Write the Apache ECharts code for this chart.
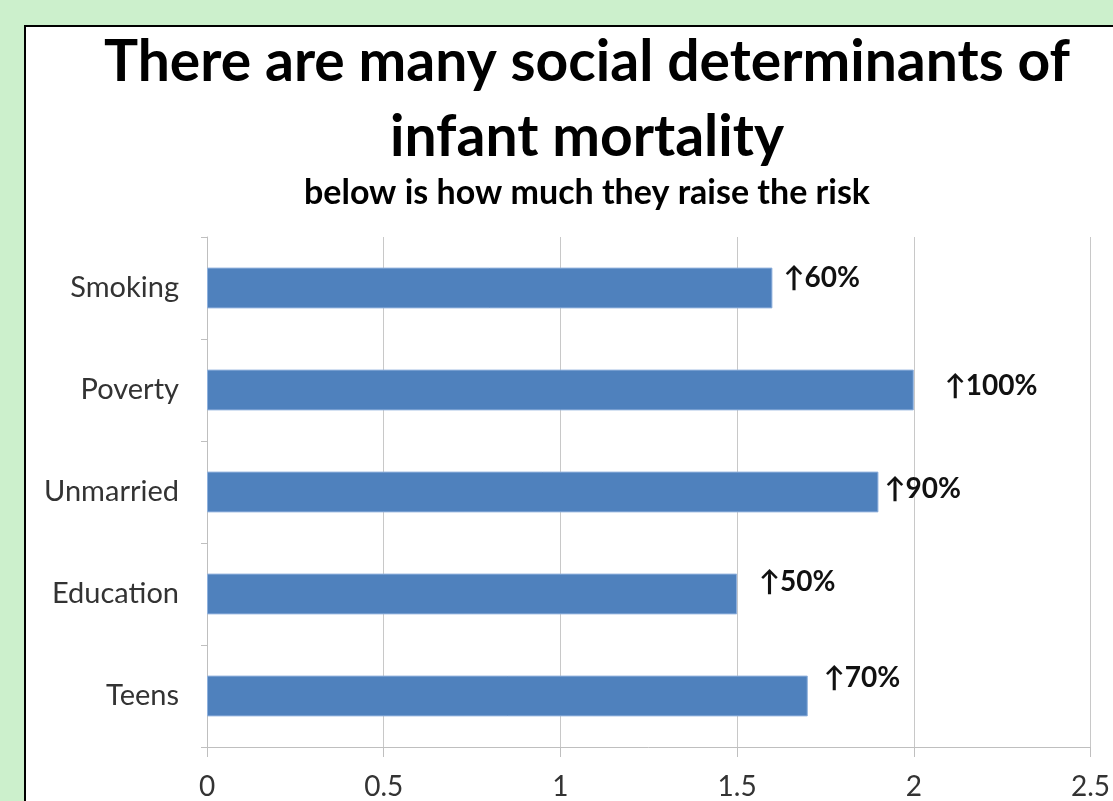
<!DOCTYPE html>
<html>
<head>
<meta charset="utf-8">
<script src="https://cdn.jsdelivr.net/npm/echarts@6/dist/echarts.min.js"></script>
<style>
  html, body { margin: 0; padding: 0; background: #ccf0cc; overflow: hidden; }
  #panel { position: absolute; left: 24px; top: 25px; width: 1200px; height: 900px; background: #fff; border: 2px solid #000; }
  #chart { position: absolute; left: 0; top: 0; width: 1113px; height: 801px; }
</style>
</head>
<body>
<div id="panel"></div>
<div id="chart"></div>
<script>
const categories = ['Teens', 'Education', 'Unmarried', 'Poverty', 'Smoking'];
const riskValues = [1.7, 1.5, 1.9, 2.0, 1.6];
const riskLabels = ['↑70%', '↑50%', '↑90%', '↑100%', '↑60%'];
// labels were hand-placed in the original, so nudge each one
const labelOffsets = [[11, -18], [17, -12], [1, -3], [26, -4], [6, -10]];

const chart = echarts.init(document.getElementById('chart'));

const seriesData = riskValues.map((v, i) => ({
  value: v,
  label: { offset: labelOffsets[i], formatter: riskLabels[i] }
}));

chart.setOption({
  backgroundColor: 'transparent',
  title: {
    text: 'There are many social determinants of\ninfant mortality',
    subtext: 'below is how much they raise the risk',
    left: 582,
    top: 20,
    textAlign: 'center',
    itemGap: 1,
    textStyle: { fontFamily: 'Lato', fontWeight: 'bold', fontSize: 57, lineHeight: 75, color: '#000' },
    subtextStyle: { fontFamily: 'Lato', fontWeight: 'bold', fontSize: 34, color: '#000' }
  },
  grid: { left: 207, right: 20, top: 237, bottom: 54 },
  xAxis: {
    type: 'value',
    min: 0,
    max: 2.5,
    interval: 0.5,
    axisLine: { show: true, lineStyle: { color: '#bfbfbf' } },
    axisTick: { show: true, length: 10, lineStyle: { color: '#bfbfbf' } },
    splitLine: { show: true, lineStyle: { color: '#c8c8c8' } },
    axisLabel: { fontFamily: 'Lato', fontSize: 28, color: '#333', margin: 26 }
  },
  yAxis: {
    type: 'category',
    data: categories,
    axisLine: { show: true, lineStyle: { color: '#bfbfbf' } },
    axisTick: { show: true, length: 6, lineStyle: { color: '#bfbfbf' } },
    axisLabel: { fontFamily: 'Lato', fontSize: 29, color: '#333', margin: 28 }
  },
  series: [{
    type: 'bar',
    data: seriesData,
    barWidth: '40%',
    itemStyle: { color: '#4f81bd', borderColor: '#8fb0dc', borderWidth: 1 },
    label: {
      show: true,
      position: 'right',
      fontFamily: 'Lato',
      fontWeight: 'bold',
      fontSize: 28,
      color: '#111'
    },
    silent: true
  }]
});
</script>
</body>
</html>
